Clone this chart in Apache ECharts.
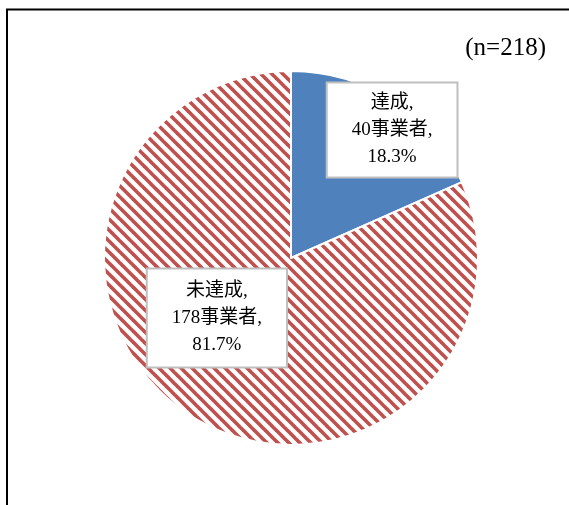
<!DOCTYPE html>
<html>
<head>
<meta charset="utf-8">
<script src="https://cdn.jsdelivr.net/npm/echarts@6/dist/echarts.min.js"></script>
<style>html,body{margin:0;padding:0;background:#fff;}#c{width:569px;height:505px;}</style>
</head>
<body>
<div id="c"></div>
<script>
const categories = ['達成', '未達成'];
const counts = [40, 178];
const unitLabel = '事業者';
const totalN = 218;

const FONT = "'Liberation Serif', 'DejaVu Serif', 'Noto Sans CJK JP', serif";

// diagonal hatch pattern
const T = 11;
const pc = document.createElement('canvas');
pc.width = T; pc.height = T;
const g = pc.getContext('2d');
g.fillStyle = '#ffffff'; g.fillRect(0, 0, T, T);
g.strokeStyle = '#C0504D'; g.lineWidth = 3.6;
for (const o of [-T, 0, T]) {
  g.beginPath(); g.moveTo(o - 2, -2); g.lineTo(o + T + 2, T + 2); g.stroke();
}

const colors = ['#4F81BD', { image: pc, repeat: 'repeat' }];
const labelOffsets = [[48.5, -47], [-21.5, -21]];
const labelPads = [[6, 24], [8, 24]];

const data = categories.map((name, i) => ({
  name,
  value: counts[i],
  itemStyle: { color: colors[i] },
  label: { offset: labelOffsets[i], padding: labelPads[i] }
}));

const chart = echarts.init(document.getElementById('c'), null, { renderer: 'canvas' });
chart.setOption({
  animation: false,
  backgroundColor: '#fff',
  graphic: [
    {
      type: 'polyline',
      shape: { points: [[7, 520], [7, 9.5], [580, 9.5]] },
      style: { stroke: '#000', lineWidth: 2, fill: null }
    },
    {
      type: 'text',
      x: 546, y: 48,
      style: {
        text: '(n=' + totalN + ')',
        font: '25px ' + FONT,
        fill: '#000',
        textAlign: 'right',
        textVerticalAlign: 'middle'
      }
    }
  ],
  series: [{
    type: 'pie',
    center: [291, 258],
    radius: [0, 187],
    startAngle: 90,
    clockwise: true,
    percentPrecision: 1,
    itemStyle: { borderColor: '#fff', borderWidth: 2 },
    label: {
      show: true,
      position: 'inside',
      formatter: '{b},\n{c}' + unitLabel + ',\n{d}%',
      fontFamily: FONT,
      fontSize: 19,
      lineHeight: 27,
      color: '#000',
      align: 'center',
      backgroundColor: '#fff',
      borderColor: '#BFBFBF',
      borderWidth: 2
    },
    labelLine: { show: false },
    emphasis: { disabled: true },
    data
  }]
});
</script>
</body>
</html>
